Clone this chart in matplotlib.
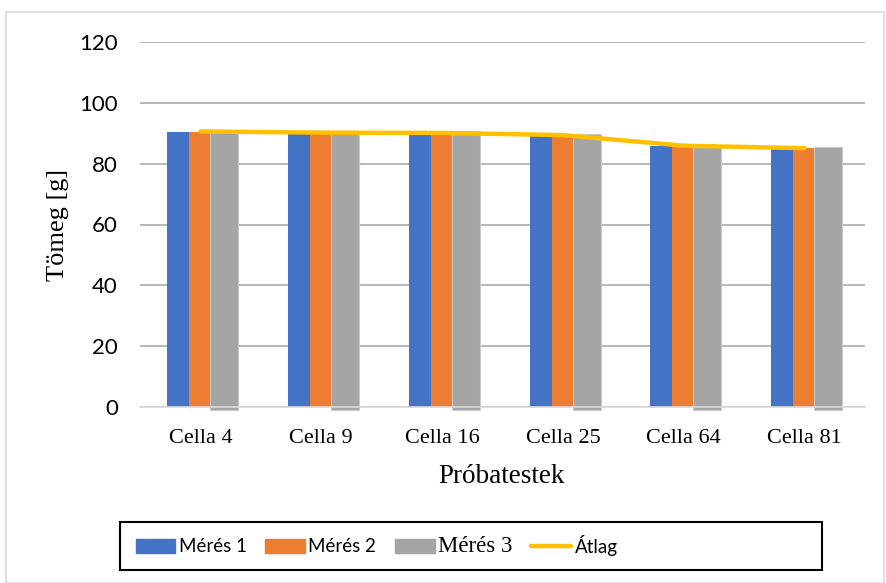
import matplotlib.pyplot as plt
import numpy as np
from matplotlib.patches import Rectangle

# mérési adatok (g)
cellak = ['Cella 4', 'Cella 9', 'Cella 16', 'Cella 25', 'Cella 64', 'Cella 81']
meres1 = [90.5, 89.9, 89.8, 89.1, 85.9, 84.9]
meres2 = [90.5, 90.0, 90.0, 89.3, 85.8, 85.1]
meres3 = [90.8, 90.8, 90.6, 89.8, 86.0, 85.4]
atlag = [90.6, 90.2, 90.1, 89.4, 85.9, 85.1]

kek = '#4472c4'
narancs = '#ed7d31'
szurke = '#a5a5a5'
sarga = '#ffc000'

fig = plt.figure(figsize=(8.86, 5.83), dpi=100)
fig.patches.append(Rectangle((6 / 886, 0.0), 878 / 886, (583 - 12) / 583,
                             transform=fig.transFigure, fill=False,
                             edgecolor='#d9d9d9', linewidth=1.2))
ax = fig.add_axes([140 / 886, (583 - 407) / 583, 725 / 886, 365 / 583])

x = np.arange(len(cellak))
ax.bar(x - 0.276, meres1, width=0.182, align='edge', color=kek, zorder=2)
ax.bar(x - 0.094, meres2, width=0.174, align='edge', color=narancs, zorder=2)
ax.bar(x + 0.080, np.array(meres3) + 1, bottom=-1, width=0.232, align='edge',
       color=szurke, edgecolor='#c9c9c9', linewidth=0.8, zorder=2, clip_on=False)
ax.plot(x, atlag, color=sarga, linewidth=3.2, solid_capstyle='round', zorder=3)

ax.set_xlim(-0.5, 5.5)
ax.set_ylim(0, 120)
ax.set_yticks(range(0, 121, 20))
ax.set_xticks(x)
ax.set_xticklabels(cellak, family='Liberation Serif', fontsize=16)
for t in ax.get_yticklabels():
    t.set_family('Lato')
    t.set_fontsize(16)
ax.tick_params(axis='both', length=0)
ax.tick_params(axis='y', pad=16)
ax.tick_params(axis='x', pad=16)
ax.grid(axis='y', color='#a6a6a6', linewidth=1.1, zorder=0)
for s in ['top', 'right', 'left']:
    ax.spines[s].set_visible(False)
ax.spines['bottom'].set_color('#d9d9d9')
ax.spines['bottom'].set_linewidth(1.2)

fig.text(502 / 886, 1 - 483 / 583, 'Próbatestek', family='Liberation Serif',
         fontsize=19.5, ha='center', va='baseline')
fig.text(58 / 886, 1 - 225 / 583, 'Tömeg [g]', family='Liberation Serif',
         fontsize=19, rotation=90, ha='center', va='center')

# jelmagyarázat: keret külön, a tartalom balra igazítva
fig.patches.append(Rectangle((120 / 886, 13 / 583), 702 / 886, 48 / 583,
                             transform=fig.transFigure, fill=False,
                             edgecolor='black', linewidth=1.5))
h1 = Rectangle((0, 0), 1, 1, color=kek)
h2 = Rectangle((0, 0), 1, 1, color=narancs)
h3 = Rectangle((0, 0), 1, 1, color=szurke)
h4, = ax.plot([], [], color=sarga, linewidth=3.2, solid_capstyle='round')
leg = fig.legend([h1, h2, h3, h4], ['Mérés 1', 'Mérés 2', 'Mérés 3', 'Átlag'],
                 ncol=4, loc='center left',
                 bbox_to_anchor=(128 / 886, 1 - 546 / 583),
                 frameon=False, handlelength=2.1, handleheight=0.75,
                 handletextpad=0.2, columnspacing=1.0,
                 borderaxespad=0, prop={'family': 'Lato', 'size': 13.5})
leg.get_texts()[2].set_family('Liberation Serif')
leg.get_texts()[2].set_fontsize(16.5)

fig.savefig('out.png', dpi=100)
